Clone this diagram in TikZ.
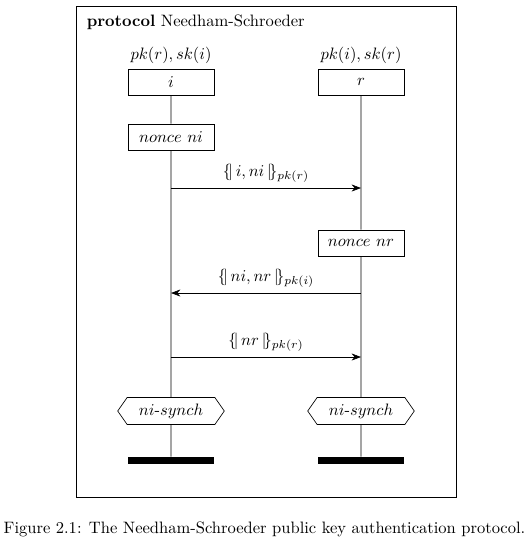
\documentclass[tikz,border=0pt]{standalone}
\usepackage{amsmath,amssymb}
\usetikzlibrary{arrows.meta,shapes.symbols}
\newcommand{\enc}[2]{\{\!|\,#1\,|\!\}_{#2}}

\begin{document}
\begin{tikzpicture}[x=0.605pt,y=-0.605pt,>={Stealth[length=2mm]},
  rolebox/.style={draw,minimum width=52pt,minimum height=15.8pt,inner sep=2pt},
  claimbox/.style={draw,shape=signal,signal to=west and east,signal pointer angle=110,minimum width=64.5pt,minimum height=16.3pt,inner sep=1pt},
  endbar/.style={fill=black,inner sep=0pt,minimum width=52pt,minimum height=4.4pt}]
\useasboundingbox (0,0) rectangle (530,543);
\draw (76,6) rectangle (456,497);
\node[anchor=west] (title) at (81,22) {\textbf{protocol} Needham-Schroeder};
% roles
\node (ki) at (171,55) {$pk(r), sk(i)$};
\node (kr) at (361,55) {$pk(i), sk(r)$};
\node[rolebox] (i) at (171,82) {$i$};
\node[rolebox] (r) at (361,82) {$r$};
\node[rolebox] (ni) at (171,137) {$nonce\ ni$};
\node[rolebox] (nr) at (361,243) {$nonce\ nr$};
\node[claimbox] (si) at (171,411) {$ni\text{-}synch$};
\node[claimbox] (sr) at (361,411) {$ni\text{-}synch$};
\node[endbar] (ei) at (171,460.5) {};
\node[endbar] (er) at (361,460.5) {};
% lifelines
\draw (i) -- (ni) -- (si) -- (ei);
\draw (r) -- (nr) -- (sr) -- (er);
% messages
\coordinate (m1i) at (171,188);
\coordinate (m1r) at (361,188);
\coordinate (m2i) at (171,293);
\coordinate (m2r) at (361,293);
\coordinate (m3i) at (171,357);
\coordinate (m3r) at (361,357);
\draw[->] (m1i) -- (m1r) node[midway,above] {$\enc{i, ni}{pk(r)}$};
\draw[->] (m2r) -- (m2i) node[midway,above] {$\enc{ni, nr}{pk(i)}$};
\draw[->] (m3i) -- (m3r) node[midway,above] {$\enc{nr}{pk(r)}$};
\node (caption) at (264.5,529) {Figure 2.1: The Needham-Schroeder public key authentication protocol.};
\end{tikzpicture}
\end{document}
